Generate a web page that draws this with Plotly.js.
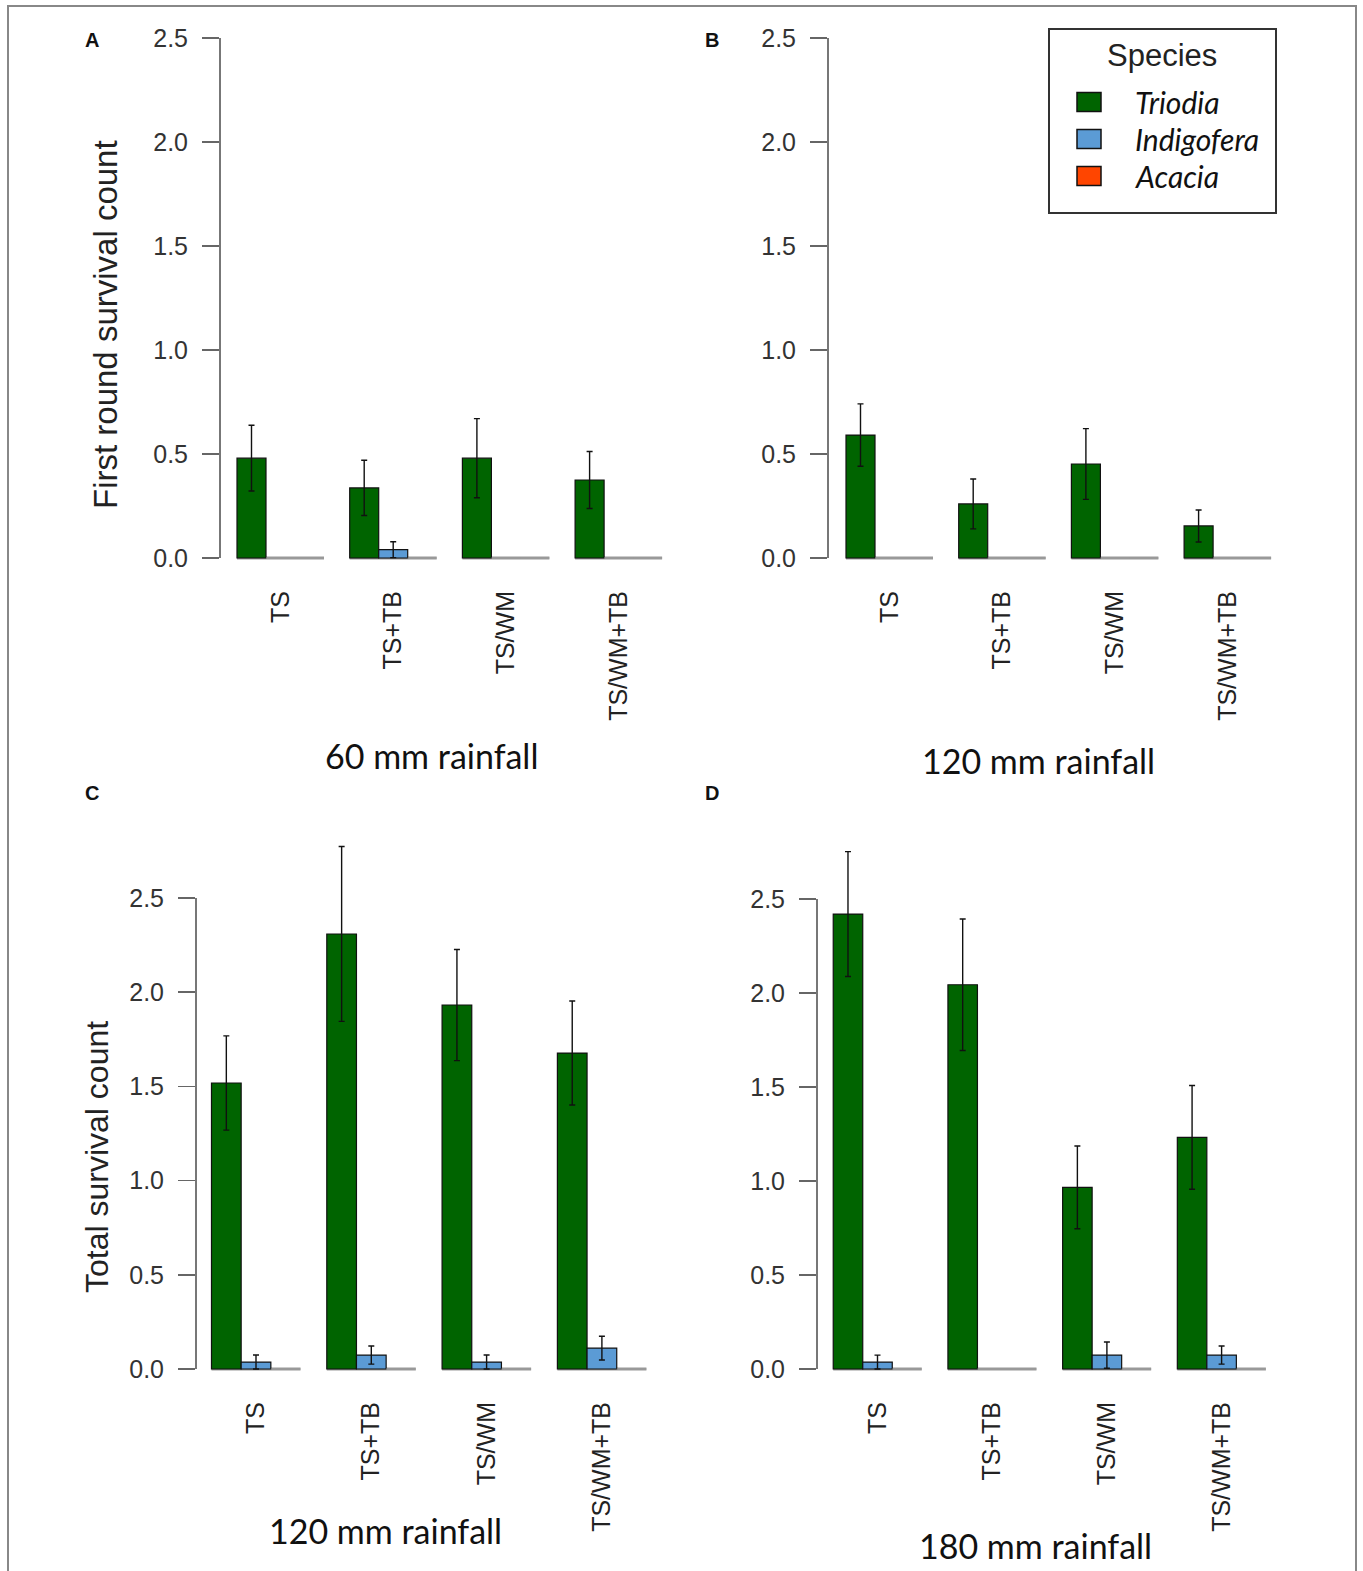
<!DOCTYPE html>
<html><head><meta charset="utf-8">
<script src="https://cdn.plot.ly/plotly-3.0.1.min.js"></script>
<style>html,body{margin:0;padding:0;background:#fff}</style>
</head><body><div id="chart" style="width:1363px;height:1571px"></div>
<script>
// ---------- DATA ----------
const treatments = ["TS", "TS+TB", "TS/WM", "TS/WM+TB"];
const species = ["Triodia", "Indigofera", "Acacia"];
const yTickVals = [0, 0.5, 1, 1.5, 2, 2.5];

// Panel A: first round survival, 60 mm rainfall
const A_triodia = [0.48, 0.337, 0.48, 0.375];
const A_triodia_se = [0.158, 0.133, 0.19, 0.137];
const A_indigofera = [0, 0.04, 0, 0];
const A_indigofera_se = [null, 0.038, null, null];
const A_acacia = [0, 0, 0, 0];

// Panel B: first round survival, 120 mm rainfall
const B_triodia = [0.591, 0.26, 0.452, 0.154];
const B_triodia_se = [0.15, 0.12, 0.17, 0.077];
const B_indigofera = [0, 0, 0, 0];
const B_indigofera_se = [null, null, null, null];
const B_acacia = [0, 0, 0, 0];

// Panel C: total survival, 120 mm rainfall
const C_triodia = [1.518, 2.309, 1.932, 1.677];
const C_triodia_se = [0.25, 0.464, 0.295, 0.276];
const C_indigofera = [0.037, 0.074, 0.037, 0.111];
const C_indigofera_se = [0.037, 0.048, 0.037, 0.063];
const C_acacia = [0, 0, 0, 0];

// Panel D: total survival, 180 mm rainfall
const D_triodia = [2.42, 2.044, 0.966, 1.232];
const D_triodia_se = [0.332, 0.35, 0.22, 0.276];
const D_indigofera = [0.037, 0, 0.074, 0.074];
const D_indigofera_se = [0.037, null, 0.07, 0.048];
const D_acacia = [0, 0, 0, 0];

const panelLetters = ["A", "B", "C", "D"];
const rainfallTitles = ["60 mm rainfall", "120 mm rainfall", "120 mm rainfall", "180 mm rainfall"];
const yTitles = ["First round survival count", "Total survival count"];

// ---------- STYLE / GEOMETRY ----------
const W = 1363, H = 1571;
const colors = ["#006400", "#5b9bd5", "#ff4500"];
const BASE_GRAY = "#999999";
const BARGAP = 0.228;
const PAD = 5; // px below zero so the baseline is not clipped
const px = v => v / W;
const py = v => 1 - v / H;

const panels = [
  {vals: [A_triodia, A_indigofera, A_acacia], se: [A_triodia_se, A_indigofera_se, null],
   axisX: 220, c0: 280.5, pitch: 112.7, right: 665, zeroY: 558, unit: 208, top: 2.5},
  {vals: [B_triodia, B_indigofera, B_acacia], se: [B_triodia_se, B_indigofera_se, null],
   axisX: 828, c0: 889.5, pitch: 112.7, right: 1272, zeroY: 558, unit: 208, top: 2.5},
  {vals: [C_triodia, C_indigofera, C_acacia], se: [C_triodia_se, C_indigofera_se, null],
   axisX: 196, c0: 256, pitch: 115.3, right: 650, zeroY: 1369, unit: 188.4, top: 2.8},
  {vals: [D_triodia, D_indigofera, D_acacia], se: [D_triodia_se, D_indigofera_se, null],
   axisX: 817, c0: 877.5, pitch: 114.7, right: 1270, zeroY: 1369, unit: 188, top: 2.8}
];

const xIdx = treatments.map((t, i) => i);
const data = [];
const shapes = [];
const annotations = [];
const layout = {
  width: W, height: H,
  margin: {l: 0, r: 0, t: 0, b: 0},
  paper_bgcolor: "#fff", plot_bgcolor: "rgba(0,0,0,0)",
  barmode: "group", bargap: BARGAP, bargroupgap: 0,
  showlegend: false,
  font: {family: "Liberation Sans, Arial, sans-serif", color: "#222"}
};

panels.forEach((p, k) => {
  const n = k + 1;
  const xa = "x" + (n === 1 ? "" : n), ya = "y" + (n === 1 ? "" : n);
  const xKey = "xaxis" + (n === 1 ? "" : n), yKey = "yaxis" + (n === 1 ? "" : n);
  layout[xKey] = {
    domain: [px(p.axisX), px(p.right)],
    range: [(p.axisX - p.c0) / p.pitch, (p.right - p.c0) / p.pitch],
    anchor: ya, fixedrange: true,
    tickvals: xIdx, ticktext: treatments, tickangle: -90,
    ticks: "", showline: false, showgrid: false, zeroline: false,
    tickfont: {size: 25, color: "#222"}, ticklabelstandoff: 22
  };
  layout[yKey] = {
    domain: [py(p.zeroY + PAD), py(p.zeroY - p.top * p.unit)],
    range: [-PAD / p.unit, p.top], anchor: xa, fixedrange: true,
    tickvals: yTickVals, ticktext: yTickVals.map(v => v.toFixed(1)),
    ticks: "outside", ticklen: 17, tickwidth: 1.5, tickcolor: "#666",
    showline: false, showgrid: false, zeroline: false,
    tickfont: {size: 25, color: "#333"}, ticklabelstandoff: 9
  };
  // axis line only from 0 to 2.5
  shapes.push({type: "line", xref: xa + " domain", yref: ya, x0: 0, x1: 0, y0: 0, y1: 2.5,
               line: {color: "#555", width: 1.6}});
  // baseline segments under each group (zero-height bars)
  xIdx.forEach(i => {
    shapes.push({type: "line", xref: xa, yref: ya, layer: "below",
                 x0: i - (1 - BARGAP) / 2, x1: i + (1 - BARGAP) / 2, y0: 0, y1: 0,
                 line: {color: BASE_GRAY, width: 3}});
  });
  species.forEach((s, j) => {
    const tr = {
      type: "bar", name: s, x: xIdx, y: p.vals[j], xaxis: xa, yaxis: ya,
      marker: {color: colors[j],
               line: {color: p.vals[j].map(v => v === 0 ? BASE_GRAY : "#111"), width: 1.2}},
      hoverinfo: "skip"
    };
    if (p.se[j]) {
      tr.error_y = {type: "data", array: p.se[j].map(e => e === null ? NaN : e), visible: true,
                    color: "#111", thickness: 1.4, width: 3};
    }
    data.push(tr);
  });
  // panel letter
  annotations.push({text: "<b>" + panelLetters[k] + "</b>", xref: "paper", yref: "paper",
    x: px(k % 2 === 0 ? 92 : 712), y: py(k < 2 ? 40 : 793), xanchor: "center", yanchor: "middle",
    showarrow: false, font: {size: 20, color: "#111", family: "Liberation Sans, Arial"}});
});

// rainfall titles
const rainPos = [[432, 755], [1038, 760], [386, 1530], [1035, 1545]];
rainfallTitles.forEach((t, k) => {
  annotations.push({text: t, xref: "paper", yref: "paper", x: px(rainPos[k][0]), y: py(rainPos[k][1]),
    xanchor: "center", yanchor: "middle", showarrow: false,
    font: {size: 34, color: "#111", family: "Lato, Carlito, sans-serif"}});
});
// y titles
annotations.push({text: yTitles[0], xref: "paper", yref: "paper", x: px(105), y: py(325),
  xanchor: "center", yanchor: "middle", textangle: -90, showarrow: false,
  font: {size: 33, color: "#222"}});
annotations.push({text: yTitles[1], xref: "paper", yref: "paper", x: px(97), y: py(1157),
  xanchor: "center", yanchor: "middle", textangle: -90, showarrow: false,
  font: {size: 32, color: "#222"}});

// manual legend
shapes.push({type: "rect", xref: "paper", yref: "paper", x0: px(1049), x1: px(1276), y0: py(29), y1: py(213),
             line: {color: "#333", width: 2}, fillcolor: "#fff"});
annotations.push({text: "Species", xref: "paper", yref: "paper", x: px(1162), y: py(56),
  xanchor: "center", yanchor: "middle", showarrow: false, font: {size: 31, color: "#222"}});
species.forEach((s, j) => {
  const cy = 102 + j * 37;
  shapes.push({type: "rect", xref: "paper", yref: "paper", x0: px(1077), x1: px(1101),
               y0: py(cy - 9.5), y1: py(cy + 9.5), line: {color: "#111", width: 1.5}, fillcolor: colors[j]});
  annotations.push({text: "<i>" + s + "</i>", xref: "paper", yref: "paper", x: px(1133), y: py(cy),
    xanchor: "left", yanchor: "middle", showarrow: false,
    font: {size: 30, color: "#111", family: "Lato, Carlito, sans-serif"}});
});

// figure border
shapes.push({type: "rect", xref: "paper", yref: "paper", x0: px(8), x1: px(1356), y0: py(6), y1: py(1590),
             line: {color: "#888", width: 2}, fillcolor: "rgba(0,0,0,0)", layer: "below"});

layout.shapes = shapes;
layout.annotations = annotations;
Plotly.newPlot("chart", data, layout, {staticPlot: true, displayModeBar: false});
</script>
</body></html>
